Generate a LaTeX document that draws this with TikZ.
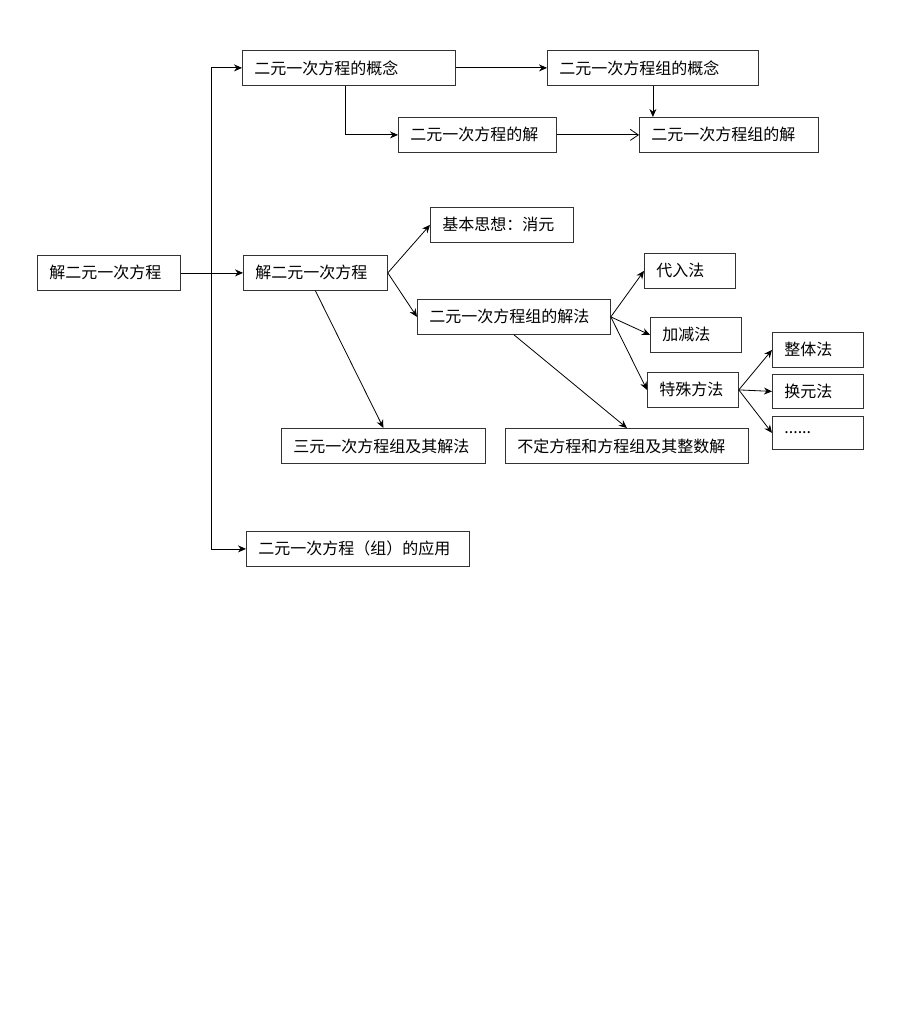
\documentclass[tikz,border=0pt]{standalone}
\usepackage{fontspec}
\setmainfont{Noto Sans CJK SC}
\usetikzlibrary{
  arrows.meta,              % Stealth 等箭头样式
  calc                      % 坐标计算
}

\begin{document}
\begin{tikzpicture}[x=1pt, y=-1pt, >={Stealth[length=8pt, width=7pt]}, line width=0.8pt,
  box/.style={draw=black!80, anchor=north west, align=left, inner xsep=12pt, inner ysep=0pt,
    minimum height=35pt, font=\fontsize{16}{19}\selectfont}] % 整体思路：按像素坐标摆放方框，再用连线把知识点串起来
  \useasboundingbox (0,0) rectangle (920,1022); % 固定画布大小，与原图比例一致

  % ======= 左侧主干 =======
  \node[box, text width=119pt] (root) at (37,255) {解二元一次方程}; % 最左侧的总标题
  \coordinate (trunk) at (211,0); % 竖直主干所在的横坐标

  % ======= 第一行：概念与解 =======
  \node[box, text width=189pt] (gn) at (242,50) {二元一次方程的概念};
  \node[box, text width=187pt] (zgn) at (547,50) {二元一次方程组的概念};
  \node[box, text width=134pt] (jie) at (398,117) {二元一次方程的解};
  \node[box, text width=155pt] (zjie) at (639,117) {二元一次方程组的解};

  % ======= 中间一行：解法 =======
  \node[box, text width=120pt] (jf) at (243,255) {解二元一次方程};
  \node[box, text width=119pt] (sx) at (430,207) {基本思想：消元};
  \node[box, text width=169pt] (zjf) at (417,299) {二元一次方程组的解法};
  \node[box, text width=67pt] (dr) at (644,253) {代入法};
  \node[box, text width=67pt] (jj) at (650,317) {加减法};
  \node[box, text width=67pt] (ts) at (647,372) {特殊方法};
  \node[box, text width=67pt] (zt) at (772,332) {整体法};
  \node[box, text width=67pt, minimum height=34pt] (hy) at (772,374) {换元法};
  \node[box, text width=67pt, minimum height=33pt] (qt) at (772,416) {......};
  \node[box, text width=180pt] (sy) at (281,428) {三元一次方程组及其解法};
  \node[box, text width=219pt] (bd) at (505,428) {不定方程和方程组及其整数解};

  % ======= 最下面：应用 =======
  \node[box, text width=199pt] (yy) at (246,531) {二元一次方程（组）的应用};

  % ======= 连线 =======
  \draw[->] (root) -- (jf); % 主标题横向指向“解二元一次方程”
  \draw[<->] (gn.west) -- (gn.west -| trunk) -- (yy.west -| trunk) -- (yy.west); % 主干上下两端分别指向概念与应用
  \draw[->] (gn) -- (zgn);
  \draw[->] ([xshift=-4pt]gn.south) |- (jie.west); % 先向下再向右
  \draw[->] (zgn.south) -- (zgn.south |- zjie.north);
  \draw[-{Straight Barb[length=8pt, width=11pt]}] (jie) -- (zjie); % 这一条是空心箭头

  \draw[->] (jf.east) -- (sx.west);
  \draw[->] (jf.east) -- (zjf.west);
  \draw[->] (jf.south) -- (sy.north);
  \draw[->] (zjf.south) -- (bd.north);
  \foreach \t in {dr, jj, ts} \draw[->] (zjf.east) -- (\t.west); % 三种基本解法
  \foreach \t in {zt, hy, qt} \draw[->] (ts.east) -- (\t.west); % 特殊方法再分三类

\end{tikzpicture}
\end{document}
